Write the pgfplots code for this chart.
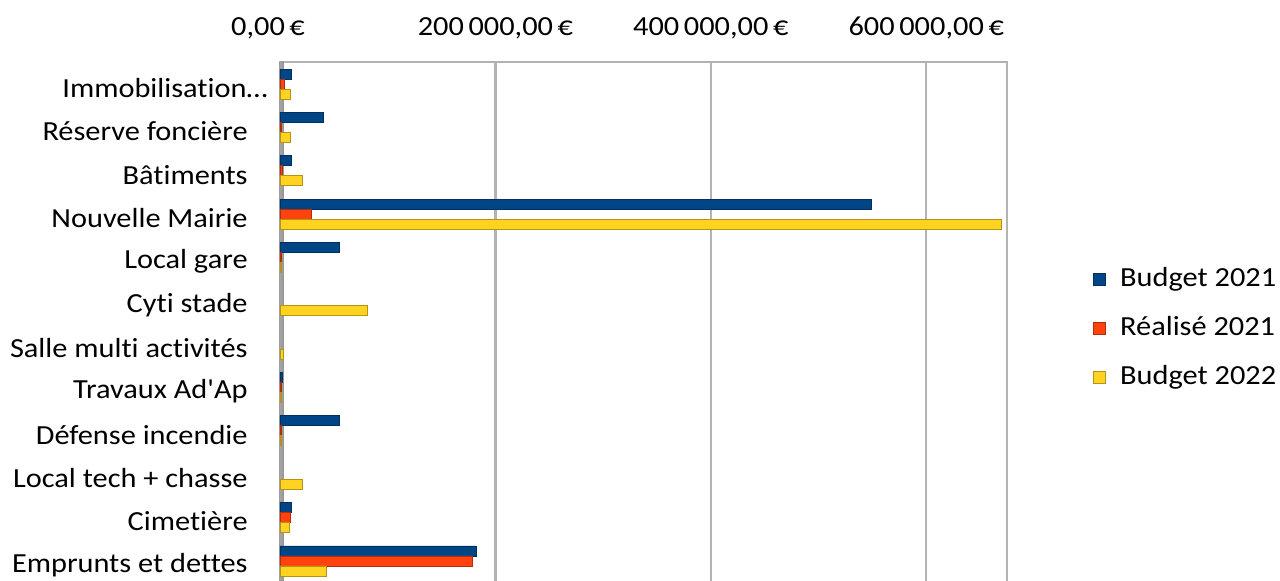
\documentclass[border=0pt]{standalone}
\usepackage{fontspec}
\setmainfont{Carlito}[FakeStretch=1.1, Ligatures={TeXOff,NoCommon}]
\usepackage{pgfplots}
\pgfplotsset{compat=1.18}
\definecolor{cB}{HTML}{004586}
\definecolor{cR}{HTML}{FF420E}
\definecolor{cY}{HTML}{FFD320}
\definecolor{gridgray}{HTML}{B3B3B3}
\newcommand{\lf}{\fontsize{13.8pt}{16pt}\selectfont}
\begin{document}
\begin{tikzpicture}
\begin{axis}[
  xbar, scale only axis, width=363.5pt, height=261pt,
  xmin=0, xmax=675000, ymin=-0.6, ymax=11.44, y dir=reverse,
  scaled x ticks=false,
  ytick={0,...,11},
  yticklabels={Immobilisation…\kern-10pt, Réserve foncière, Bâtiments, Nouvelle Mairie, Local gare, Cyti stade, Salle multi activités, Travaux Ad'Ap, Défense incendie, Local tech + chasse, Cimetière, Emprunts et dettes},
  yticklabel style={font=\lf, anchor=east, inner sep=0pt, xshift=-16pt},
  xtick={0,200000,400000,600000},
  xticklabels={{\kern-12pt0,00\,€},{200\,000,00\,€},{400\,000,00\,€},{600\,000,00\,€}},
  xticklabel pos=top,
  xticklabel style={font=\lf, anchor=base, inner sep=0pt, yshift=13pt},
  xmajorgrids, grid style={gridgray, line width=1.2pt},
  axis line style={gridgray, line width=1.2pt},
  major tick length=0pt,
  bar width=5pt,
  legend style={at={(1,0.489)}, anchor=west, xshift=43pt, draw=none, fill=none, inner sep=0pt, font=\lf, row sep=11.5pt, nodes={inner sep=0pt, text height=10pt, text depth=3pt}, /tikz/every odd column/.style={column sep=7pt}},
  legend cell align=left,
  legend image code/.code={\fill[#1] (0pt,-3pt) rectangle (6pt,3pt);},
]
\fill[left color=gray!40, right color=gray!85] ([xshift=-4.5pt]rel axis cs:0,0) rectangle ([xshift=2pt]rel axis cs:0,1);
\addplot[fill=cB, draw=cB!70!black, line width=0.4pt, bar shift=7pt] coordinates {
 (11000,0) (40000,1) (11000,2) (549000,3) (55500,4) (2500,7) (55000,8) (11000,10) (182500,11)};
\addplot[fill=cR, draw=cR!70!black, line width=0.4pt, bar shift=2pt] coordinates {
 (4500,0) (1500,1) (2000,2) (29500,3) (1500,4) (1500,7) (1500,8) (10000,10) (179000,11)};
\addplot[fill=cY, draw=cY!70!black, line width=0.4pt, bar shift=-3pt] coordinates {
 (10000,0) (10000,1) (20500,2) (670000,3) (1000,4) (81500,5) (3500,6) (1500,7) (1500,8) (20500,9) (8500,10) (43000,11)};
\legend{Budget 2021, Réalisé 2021, Budget 2022}
\end{axis}
\pgfresetboundingbox
\useasboundingbox (-140pt,1.5pt) rectangle (500pt,292pt);
\end{tikzpicture}
\end{document}
